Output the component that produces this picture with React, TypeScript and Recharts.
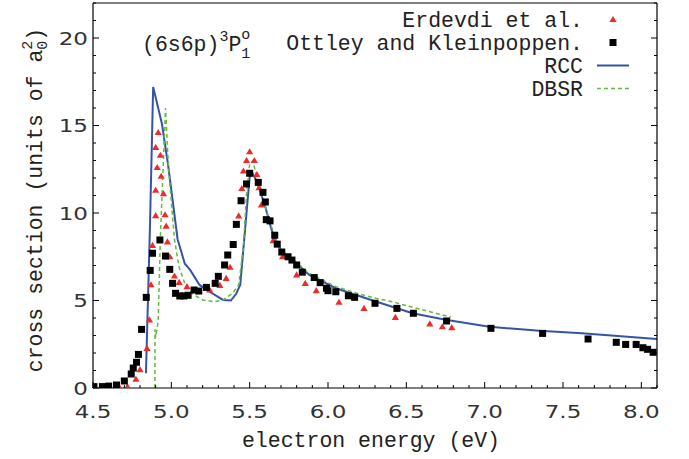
import { ComposedChart, Legend, Line, Scatter, XAxis, YAxis } from "recharts";

// [energy (eV), cross section (a0^2)]
const erdevdi: [number, number][] = [
	[4.67, 0.03], [4.72, 0.08], [4.774, 0.5], [4.8, 1.05], [4.845, 2.27],
	[4.86, 3.89], [4.87, 5.9], [4.88, 8.15], [4.9, 9.85], [4.9, 11.3],
	[4.9, 13.75], [4.91, 12.6], [4.916, 14.6], [4.93, 13.3], [4.935, 12.1],
	[4.95, 11.1], [4.96, 9.9], [4.967, 9.25], [4.975, 8.35], [4.99, 7.5],
	[5.02, 6.4], [5.05, 6.04], [5.1, 5.79], [5.245, 5.6], [5.31, 5.87],
	[5.35, 6.26], [5.375, 6.9], [5.43, 9.84], [5.45, 11.4], [5.46, 12.4],
	[5.48, 13.0], [5.5, 13.5], [5.53, 13.0], [5.546, 12.2], [5.56, 11.45],
	[5.575, 10.46], [5.65, 8.42], [5.71, 7.5], [5.8, 6.46], [5.855, 5.98],
	[5.925, 5.56], [6.07, 4.9], [6.23, 4.55], [6.43, 4.04], [6.65, 3.66],
	[6.73, 3.5], [6.79, 3.45],
];

const ottley: [number, number][] = [
	[4.506, 0.08], [4.56, 0.08], [4.6, 0.11], [4.65, 0.17], [4.7, 0.4],
	[4.744, 0.8], [4.757, 1.14], [4.778, 1.47], [4.79, 1.92], [4.81, 3.35],
	[4.84, 5.18], [4.865, 6.72], [4.88, 7.7], [4.927, 8.46], [4.963, 7.54],
	[4.99, 6.78], [5.008, 5.98], [5.027, 5.41], [5.054, 5.26], [5.08, 5.26],
	[5.107, 5.3], [5.145, 5.6], [5.175, 5.54], [5.224, 5.75], [5.28, 5.98],
	[5.3, 6.38], [5.34, 7.03], [5.36, 7.6], [5.395, 8.2], [5.415, 9.35],
	[5.445, 10.7], [5.48, 11.66], [5.5, 12.27], [5.555, 11.75], [5.585, 11.18],
	[5.6, 10.63], [5.606, 9.62], [5.63, 9.55], [5.66, 8.73], [5.676, 8.22],
	[5.705, 7.77], [5.745, 7.5], [5.77, 7.31], [5.8, 7.03], [5.836, 6.62],
	[5.912, 6.31], [5.95, 6.02], [5.99, 5.7], [6.0, 5.56], [6.05, 5.5],
	[6.13, 5.27], [6.17, 5.18], [6.3, 4.84], [6.44, 4.55], [6.545, 4.27],
	[6.757, 3.83], [7.04, 3.41], [7.37, 3.12], [7.66, 2.8], [7.84, 2.61],
	[7.9, 2.49], [7.967, 2.49], [8.01, 2.3], [8.04, 2.21], [8.075, 2.04],
];

const rcc: [number, number][] = [
	[4.838, 0.84], [4.863, 9.0], [4.884, 17.2], [4.94, 15.1], [4.98, 12.7],
	[5.02, 9.9], [5.04, 8.5], [5.086, 7.1], [5.12, 6.75], [5.18, 5.89],
	[5.245, 5.5], [5.33, 5.03], [5.38, 5.0], [5.415, 5.4], [5.44, 5.9],
	[5.5, 12.07], [5.52, 12.25], [5.55, 11.7], [5.6, 10.36], [5.64, 9.03],
	[5.68, 8.17], [5.72, 7.6], [5.82, 6.95], [5.88, 6.46], [5.95, 6.15],
	[6.05, 5.7], [6.31, 4.93], [6.54, 4.27], [6.75, 3.9], [7.03, 3.5],
	[7.35, 3.27], [7.62, 3.13], [8.1, 2.8],
];

const dbsr: [number, number][] = [
	[4.895, 0], [4.896, 3.35], [4.9, 2.9], [4.916, 3.8], [4.93, 8.6],
	[4.963, 16.0], [4.98, 12.9], [5.0, 10.6], [5.02, 8.5], [5.04, 7.4],
	[5.05, 6.9], [5.086, 5.98], [5.13, 5.41], [5.2, 5.03], [5.277, 4.93],
	[5.33, 5.03], [5.39, 5.41], [5.43, 5.89], [5.46, 8.07], [5.48, 11.1],
	[5.5, 12.8], [5.52, 13.0], [5.55, 11.9], [5.606, 10.17], [5.66, 8.65],
	[5.69, 7.98], [5.88, 6.55], [6.05, 5.79], [6.2, 5.37], [6.31, 5.12],
	[6.41, 4.93], [6.54, 4.61], [6.785, 4.05],
];

const xMajorTicks = [4.5, 5.0, 5.5, 6.0, 6.5, 7.0, 7.5, 8.0];
const xAllTicks = Array.from({ length: 37 }, (_, i) => Math.round(45 + i) / 10);
const yMajorTicks = [0, 5, 10, 15, 20];
const yAllTicks = Array.from({ length: 23 }, (_, i) => i);

const toXY = (pts: [number, number][]) => pts.map(([x, y]) => ({ x, y }));

const TEXT = "#222";
const MONO = "'Liberation Mono', 'DejaVu Sans Mono', monospace";
const SANS = "'DejaVu Sans', sans-serif";
const RED = "#ee2b2b";
const BLUE = "#3653a6";
const GREEN = "#62bb3e";

const isMajor = (list: number[], v: number) =>
	list.some((m) => Math.abs(m - v) < 1e-6);

function BottomTick({ x, y, payload }: any) {
	const major = isMajor(xMajorTicks, payload.value);
	return (
		<g>
			<line x1={x} x2={x} y1={y} y2={y - (major ? 6 : 3)} stroke="#000" />
			{major && (
				<text
					transform={`translate(${x},${y + 30}) scale(1.28,1)`}
					textAnchor="middle"
					fontFamily={SANS}
					fontSize={18}
					fill="#333"
				>
					{payload.value.toFixed(1)}
				</text>
			)}
		</g>
	);
}

function TopTick({ x, y, payload }: any) {
	const major = isMajor(xMajorTicks, payload.value);
	return <line x1={x} x2={x} y1={y} y2={y + (major ? 6 : 3)} stroke="#000" />;
}

function LeftTick({ x, y, payload }: any) {
	const major = isMajor(yMajorTicks, payload.value);
	return (
		<g>
			<line x1={x} x2={x + (major ? 6 : 3)} y1={y} y2={y} stroke="#000" />
			{major && (
				<text
					transform={`translate(${x - 5},${y + 6.5}) scale(1.28,1)`}
					textAnchor="end"
					fontFamily={SANS}
					fontSize={18}
					fill="#333"
				>
					{payload.value}
				</text>
			)}
		</g>
	);
}

function RightTick({ x, y, payload }: any) {
	const major = isMajor(yMajorTicks, payload.value);
	return <line x1={x} x2={x - (major ? 6 : 3)} y1={y} y2={y} stroke="#000" />;
}

const triangle = (p: any) => (
	<polygon
		points={`${p.cx},${p.cy - 3.6} ${p.cx - 3.6},${p.cy + 2.6} ${p.cx + 3.6},${p.cy + 2.6}`}
		fill={RED}
	/>
);

const square = (p: any) => (
	<rect x={p.cx - 3.5} y={p.cy - 3.5} width={7} height={7} fill="#000" />
);

function XTitle() {
	return (
		<text x={371} y={447} textAnchor="middle" fontFamily={MONO} fontSize={21.5} fill={TEXT}>
			electron energy (eV)
		</text>
	);
}

function YTitle() {
	return (
		<text
			transform="translate(42,200) rotate(-90)"
			textAnchor="middle"
			fontFamily={MONO}
			fontSize={21.5}
			fill={TEXT}
		>
			cross section (units of a
			<tspan fontSize={15} dy={5}>0</tspan>
			<tspan fontSize={15} dx={-9} dy={-15}>2</tspan>
			<tspan dy={10}>)</tspan>
		</text>
	);
}

function KeyBox() {
	const right = 583;
	return (
		<svg width={689} height={110} style={{ display: "block" }}>
			<text x={142} y={51} fontFamily={MONO} fontSize={21.5} fill={TEXT}>
				(6s6p)
				<tspan fontSize={15} dy={-10}>3</tspan>
				<tspan fontSize={21.5} dy={10}>P</tspan>
				<tspan fontSize={15} dy={-12}>o</tspan>
				<tspan fontSize={15} dx={-9} dy={19}>1</tspan>
			</text>
			<g fontFamily={MONO} fontSize={21.5} fill={TEXT} textAnchor="end">
				<text x={right} y={27}>Erdevdi et al.</text>
				<text x={right} y={50}>Ottley and Kleinpoppen.</text>
				<text x={right} y={73}>RCC</text>
				<text x={right} y={96}>DBSR</text>
			</g>
			{triangle({ cx: 613, cy: 19.5 })}
			{square({ cx: 613, cy: 42.5 })}
			<line x1={597} x2={629} y1={65.5} y2={65.5} stroke={BLUE} strokeWidth={2} />
			<line
				x1={597}
				x2={629}
				y1={88.5}
				y2={88.5}
				stroke={GREEN}
				strokeWidth={1.5}
				strokeDasharray="4 3"
			/>
		</svg>
	);
}

export default function App() {
	return (
		<div style={{ position: "absolute", left: 0, top: 0, background: "#fff" }}>
			<ComposedChart
				width={689}
				height={459}
				margin={{ top: 2, right: 31, bottom: 0, left: 0 }}
			>
				<XAxis
					xAxisId="b"
					dataKey="x"
					type="number"
					domain={[4.5, 8.1]}
					allowDataOverflow
					ticks={xAllTicks}
					interval={0}
					tickSize={0}
					tickMargin={0}
					tickLine={false}
					tick={<BottomTick />}
					height={71}
					axisLine={{ stroke: "#000", strokeWidth: 1.2 }}
					label={<XTitle />}
				/>
				<XAxis
					xAxisId="t"
					orientation="top"
					type="number"
					domain={[4.5, 8.1]}
					allowDataOverflow
					ticks={xAllTicks}
					interval={0}
					tickSize={0}
					tickMargin={0}
					tickLine={false}
					tick={<TopTick />}
					height={1}
					axisLine={{ stroke: "#000", strokeWidth: 1.2 }}
				/>
				<YAxis
					yAxisId="l"
					dataKey="y"
					type="number"
					domain={[0, 22]}
					allowDataOverflow
					ticks={yAllTicks}
					interval={0}
					tickSize={0}
					tickMargin={0}
					tickLine={false}
					tick={<LeftTick />}
					width={93}
					axisLine={{ stroke: "#000", strokeWidth: 1.2 }}
					label={<YTitle />}
				/>
				<YAxis
					yAxisId="r"
					orientation="right"
					type="number"
					domain={[0, 22]}
					allowDataOverflow
					ticks={yAllTicks}
					interval={0}
					tickSize={0}
					tickMargin={0}
					tickLine={false}
					tick={<RightTick />}
					width={1}
					axisLine={{ stroke: "#000", strokeWidth: 1.2 }}
				/>
				<Legend
					layout="horizontal"
					verticalAlign="middle"
					align="center"
					wrapperStyle={{ position: "absolute", left: 0, top: 0, width: 689, height: 110 }}
					content={() => <KeyBox />}
				/>
				<Scatter
					name="Erdevdi et al."
					xAxisId="b"
					yAxisId="l"
					data={toXY(erdevdi)}
					shape={triangle}
					isAnimationActive={false}
				/>
				<Scatter
					name="Ottley and Kleinpoppen."
					xAxisId="b"
					yAxisId="l"
					data={toXY(ottley)}
					shape={square}
					isAnimationActive={false}
				/>
				<Line
					name="RCC"
					xAxisId="b"
					yAxisId="l"
					data={toXY(rcc)}
					dataKey="y"
					type="linear"
					stroke={BLUE}
					strokeWidth={2}
					dot={false}
					isAnimationActive={false}
				/>
				<Line
					name="DBSR"
					xAxisId="b"
					yAxisId="l"
					data={toXY(dbsr)}
					dataKey="y"
					type="linear"
					stroke={GREEN}
					strokeWidth={1.5}
					strokeDasharray="4 3"
					dot={false}
					isAnimationActive={false}
				/>
			</ComposedChart>
		</div>
	);
}
